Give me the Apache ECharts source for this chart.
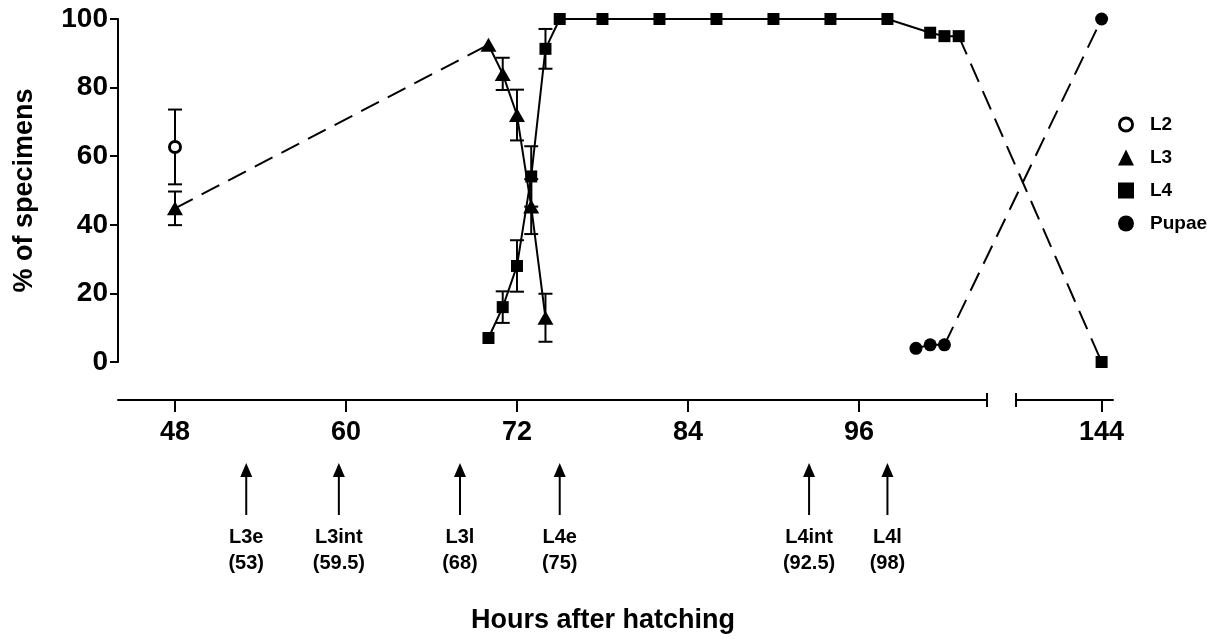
<!DOCTYPE html>
<html>
<head>
<meta charset="utf-8">
<style>
  html, body { margin: 0; padding: 0; background: #fff; }
  #chart { width: 1211px; height: 640px; }
</style>
<script src="https://cdn.jsdelivr.net/npm/echarts@6.0.0/dist/echarts.min.js"></script>
</head>
<body>
<div id="chart"></div>
<script>
// hours after hatching / % of specimens / error (+-)
const HOURS_L2 = [48];
const L2 = [62.7];
const L2_ERR = [10.9];

const HOURS_L3 = [48, 70, 71, 72, 73, 74];
const L3 = [44.8, 92.5, 84, 72, 45.3, 12.9];
const L3_ERR = [4.9, 0, 4.7, 7.4, 8, 7];

const HOURS_L4 = [70, 71, 72, 73, 74, 75, 78, 82, 86, 90, 94, 98, 101, 102, 103, 144];
const L4 = [7, 16, 28, 54.1, 91.3, 100, 100, 100, 100, 100, 100, 100, 96, 95, 95, 0];
const L4_ERR = [0, 4.6, 7.5, 8.8, 5.8, 0, 0, 0, 0, 0, 0, 0, 0, 0, 0, 0];

const HOURS_PUPAE = [100, 101, 102, 144];
const PUPAE = [4, 5, 5, 100];

const X_TICKS = [48, 60, 72, 84, 96, 144];
const BREAK_EDGES = [105, 138];

const STAGES = ["L3e", "L3int", "L3l", "L4e", "L4int", "L4l"];
const STAGE_HOURS = [53, 59.5, 68, 75, 92.5, 98];

const FONT = "'Liberation Sans', Arial, sans-serif";
const BLACK = "#000";
const DASH = [20, 10];

const chart = echarts.init(document.getElementById("chart"));

function pairs(xs, ys) {
  return xs.map((x, i) => [x, ys[i]]);
}

function errTriples(xs, ys, es) {
  return xs.map((x, i) => [x, ys[i], es[i]]).filter((d) => d[2] > 0);
}

const errData = [
  ...errTriples(HOURS_L2, L2, L2_ERR),
  ...errTriples(HOURS_L3, L3, L3_ERR),
  ...errTriples(HOURS_L4, L4, L4_ERR),
];

const l3Pts = pairs(HOURS_L3, L3);
const l4Pts = pairs(HOURS_L4, L4);
const pupPts = pairs(HOURS_PUPAE, PUPAE);

function renderErr(params, api) {
  const x = api.value(0);
  const y = api.value(1);
  const e = api.value(2);
  const top = api.coord([x, y + e]);
  const bot = api.coord([x, y - e]);
  const w = 7;
  const style = { stroke: BLACK, lineWidth: 2 };
  return {
    type: "group",
    children: [
      { type: "line", shape: { x1: top[0], y1: top[1], x2: bot[0], y2: bot[1] }, style },
      { type: "line", shape: { x1: top[0] - w, y1: top[1], x2: top[0] + w, y2: top[1] }, style },
      { type: "line", shape: { x1: bot[0] - w, y1: bot[1], x2: bot[0] + w, y2: bot[1] }, style },
    ],
  };
}

function renderArrow(params, api) {
  const h = api.value(0);
  const base = api.coord([h, 0]);
  const tip = api.coord([h, 1]);
  return {
    type: "group",
    children: [
      {
        type: "line",
        shape: { x1: base[0], y1: base[1], x2: tip[0], y2: tip[1] + 10 },
        style: { stroke: BLACK, lineWidth: 2 },
      },
      {
        type: "polygon",
        shape: { points: [[tip[0], tip[1]], [tip[0] - 6, tip[1] + 14], [tip[0] + 6, tip[1] + 14]] },
        style: { fill: BLACK },
      },
      {
        type: "text",
        x: base[0],
        y: base[1] + 9,
        style: {
          text: STAGES[params.dataIndex] + "\n(" + h + ")",
          align: "center",
          verticalAlign: "top",
          fontFamily: FONT,
          fontWeight: "bold",
          fontSize: 20,
          lineHeight: 26,
          fill: BLACK,
        },
      },
    ],
  };
}

const xBase = {
  type: "value",
  min: 44,
  max: 144.8,
  breaks: [{ start: BREAK_EDGES[0], end: BREAK_EDGES[1], gap: 2.03 }],
  splitLine: { show: false },
};

const ring = "path://M10,0 A10,10 0 1,1 10,20 A10,10 0 1,1 10,0 Z M10,3.6 A6.4,6.4 0 1,0 10,16.4 A6.4,6.4 0 1,0 10,3.6 Z";

chart.setOption({
  animation: false,
  backgroundColor: "#fff",
  grid: [
    { left: 118, right: 98, top: 19, bottom: 278 },
    { left: 118, right: 98, top: 463, height: 52 },
  ],
  legend: {
    orient: "vertical",
    left: 1118,
    top: 115,
    padding: 0,
    itemWidth: 16,
    itemHeight: 16,
    itemGap: 14,
    selectedMode: false,
    textStyle: { fontFamily: FONT, fontWeight: "bold", fontSize: 19, color: BLACK, padding: [0, 0, 0, 11] },
    data: [
      { name: "L2", icon: ring, itemStyle: { color: BLACK, borderWidth: 0 } },
      { name: "L3", icon: "triangle" },
      { name: "L4", icon: "rect" },
      { name: "Pupae", icon: "circle" },
    ],
  },
  xAxis: [
    {
      ...xBase,
      gridIndex: 0,
      position: "bottom",
      offset: 38,
      breakArea: {
        show: true,
        itemStyle: { color: "rgba(0,0,0,0)", borderColor: "rgba(0,0,0,0)", borderWidth: 0 },
      },
      axisLine: { show: true, onZero: false, lineStyle: { color: BLACK, width: 2 } },
      axisTick: { show: true, length: 12, customValues: X_TICKS, lineStyle: { color: BLACK, width: 2 } },
      axisLabel: {
        customValues: X_TICKS,
        margin: 19,
        color: BLACK,
        fontFamily: FONT,
        fontWeight: "bold",
        fontSize: 27,
      },
      name: "Hours after hatching",
      nameLocation: "middle",
      nameGap: 207,
      nameTextStyle: { color: BLACK, fontFamily: FONT, fontWeight: "bold", fontSize: 27, padding: [0, 25, 0, 0] },
    },
    {
      ...xBase,
      gridIndex: 0,
      position: "bottom",
      offset: 38,
      breakArea: { show: false },
      axisLine: { show: false, onZero: false },
      axisLabel: { show: false },
      axisTick: { show: true, inside: true, length: 7, customValues: BREAK_EDGES, lineStyle: { color: BLACK, width: 2 } },
    },
    {
      ...xBase,
      gridIndex: 0,
      position: "bottom",
      offset: 38,
      breakArea: { show: false },
      axisLine: { show: false, onZero: false },
      axisLabel: { show: false },
      axisTick: { show: true, length: 7, customValues: BREAK_EDGES, lineStyle: { color: BLACK, width: 2 } },
    },
    { ...xBase, gridIndex: 1, show: false, breakArea: { show: false } },
  ],
  yAxis: [
    {
      gridIndex: 0,
      type: "value",
      min: 0,
      max: 100,
      interval: 20,
      axisLine: { show: true, lineStyle: { color: BLACK, width: 2 } },
      axisTick: { show: true, length: 8, lineStyle: { color: BLACK, width: 2 } },
      axisLabel: { margin: 10, color: BLACK, fontFamily: FONT, fontWeight: "bold", fontSize: 28 },
      splitLine: { show: false },
      name: "% of specimens",
      nameLocation: "middle",
      nameRotate: 90,
      nameGap: 80,
      nameTextStyle: { color: BLACK, fontFamily: FONT, fontWeight: "bold", fontSize: 27 },
    },
    { gridIndex: 1, type: "value", min: 0, max: 1, show: false },
  ],
  series: [
    {
      type: "custom",
      xAxisIndex: 0,
      yAxisIndex: 0,
      renderItem: renderErr,
      encode: { x: 0, y: 1 },
      data: errData,
      z: 1,
      silent: true,
    },
    // dashed connectors
    {
      type: "line",
      data: l3Pts.slice(0, 2),
      symbol: "none",
      lineStyle: { color: BLACK, width: 2, type: DASH },
      z: 2,
      silent: true,
    },
    {
      type: "line",
      data: l4Pts.slice(-2),
      symbol: "none",
      lineStyle: { color: BLACK, width: 2, type: DASH },
      z: 2,
      silent: true,
    },
    {
      type: "line",
      data: pupPts.slice(-2),
      symbol: "none",
      lineStyle: { color: BLACK, width: 2, type: DASH },
      z: 2,
      silent: true,
    },
    // solid runs
    {
      type: "line",
      data: l3Pts.slice(1),
      symbol: "none",
      lineStyle: { color: BLACK, width: 2 },
      z: 2,
      silent: true,
    },
    {
      type: "line",
      data: l4Pts.slice(0, -1),
      symbol: "none",
      lineStyle: { color: BLACK, width: 2 },
      z: 2,
      silent: true,
    },
    {
      type: "line",
      data: pupPts.slice(0, -1),
      symbol: "none",
      lineStyle: { color: BLACK, width: 2 },
      z: 2,
      silent: true,
    },
    // markers
    {
      name: "L2",
      type: "scatter",
      data: pairs(HOURS_L2, L2),
      symbol: "circle",
      symbolSize: 11,
      itemStyle: { color: "#fff", borderColor: BLACK, borderWidth: 3, opacity: 1 },
      z: 3,
    },
    {
      name: "L3",
      type: "scatter",
      data: l3Pts,
      symbol: "triangle",
      symbolSize: [16, 14],
      itemStyle: { color: BLACK, opacity: 1 },
      z: 3,
    },
    {
      name: "L4",
      type: "scatter",
      data: l4Pts,
      symbol: "rect",
      symbolSize: 12,
      itemStyle: { color: BLACK, opacity: 1 },
      z: 3,
    },
    {
      name: "Pupae",
      type: "scatter",
      data: pupPts,
      symbol: "circle",
      symbolSize: 13,
      itemStyle: { color: BLACK, opacity: 1 },
      z: 3,
    },
    // stage arrows under the axis
    {
      type: "custom",
      xAxisIndex: 3,
      yAxisIndex: 1,
      renderItem: renderArrow,
      encode: { x: 0 },
      data: STAGE_HOURS.map((h) => [h]),
      silent: true,
    },
  ],
});
</script>
</body>
</html>
